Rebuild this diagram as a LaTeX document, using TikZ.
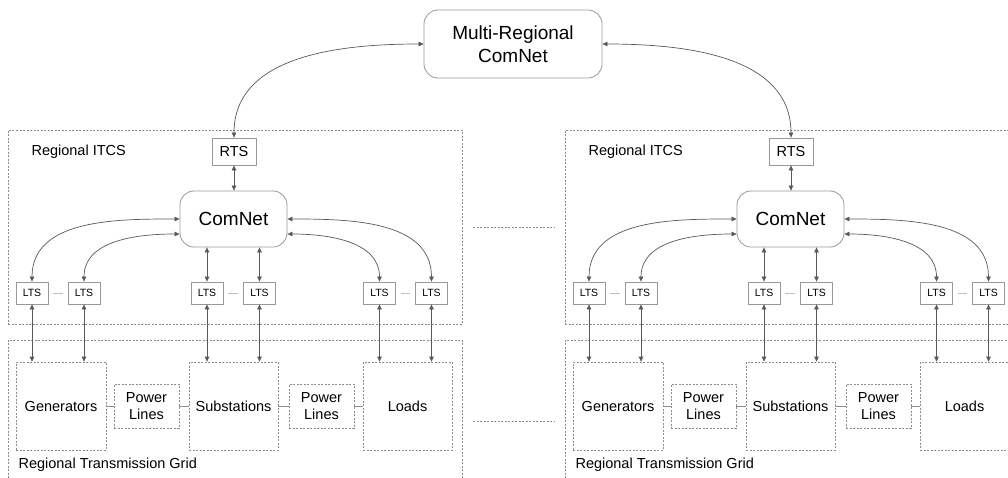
\documentclass[tikz,border=0pt]{standalone}
\usepackage{fontspec}
\setmainfont{Liberation Sans}
\usetikzlibrary{arrows.meta}

% font sizes (1pt = 1 unit of the drawing grid)
\newcommand\hdfnt{\fontsize{19}{23}\selectfont}
\newcommand\lblfnt{\fontsize{14.5}{17.5}\selectfont}
\newcommand\ltsfnt{\fontsize{10.5}{12}\selectfont}

\tikzset{
  solidbox/.style={draw=black!40, line width=0.8pt, fill=white, inner sep=0pt, align=center},
  roundbox/.style={solidbox, rounded corners=14pt},
  dashbox/.style={draw=black!45, line width=0.7pt, dash pattern=on 2pt off 1.5pt, fill=white, inner sep=0pt, align=center},
  framebox/.style={draw=black!45, line width=0.7pt, dash pattern=on 2pt off 1.5pt, inner sep=0pt},
  link/.style={draw=black!65, line width=0.7pt, <->},
  pairline/.style={draw=black!25, line width=0.7pt, shorten <=5pt, shorten >=5pt},
  gridline/.style={draw=black!45, line width=0.7pt},
  gapline/.style={draw=black!45, line width=0.7pt, dash pattern=on 2pt off 1.5pt},
}

\begin{document}
\begin{tikzpicture}[x=1pt, y=-1pt, >={Triangle[length=5pt,width=4.5pt]}]
\useasboundingbox (0,0) rectangle (1008,477);
\fill[white] (0,0) rectangle (1008,477);
\clip (0,0) rectangle (1008,477);

% top-level communication network
\node[roundbox, minimum width=178pt, minimum height=68pt, font=\hdfnt] (mr) at (513,44) {Multi-Regional\\ComNet};

% two identical regions
\foreach \s/\dx in {A/0, B/557} {
  \begin{scope}[xshift=\dx pt]
    % regional ITCS frame
    \node[framebox, minimum width=454pt, minimum height=194pt] (itcs\s) at (235,227) {};
    \node[anchor=west, font=\lblfnt] (itcslbl\s) at (28,152) {Regional ITCS};
    \node[solidbox, minimum width=44pt, minimum height=27pt, font=\lblfnt] (rts\s) at (234,151.5) {RTS};
    \node[roundbox, minimum width=107pt, minimum height=56pt, font=\hdfnt] (comnet\s) at (233.5,219) {ComNet};

    % local terminal servers
    \foreach \i/\x in {1/32, 2/84, 3/207, 4/259.5, 5/379.5, 6/431.5}
      \node[solidbox, minimum width=32pt, minimum height=22pt, font=\ltsfnt] (lts\s\i) at (\x,293) {LTS};

    % regional transmission grid frame
    \node[framebox, minimum width=454pt, minimum height=160pt] (grid\s) at (235,420) {};
    \node[anchor=west, font=\lblfnt] (gridlbl\s) at (15,465) {Regional Transmission Grid};

    \node[dashbox, minimum width=90pt, minimum height=88pt, font=\lblfnt] (gen\s) at (61,406) {Generators};
    \node[dashbox, minimum width=65pt, minimum height=44pt, font=\lblfnt] (plA\s) at (146.5,406) {Power\\Lines};
    \node[dashbox, minimum width=89pt, minimum height=88pt, font=\lblfnt] (sub\s) at (233.5,406) {Substations};
    \node[dashbox, minimum width=65pt, minimum height=44pt, font=\lblfnt] (plB\s) at (321.5,406) {Power\\Lines};
    \node[dashbox, minimum width=89pt, minimum height=88pt, font=\lblfnt] (load\s) at (407.5,406) {Loads};

    % grid connections
    \draw[gridline] (gen\s) -- (plA\s);
    \draw[gridline] (plA\s) -- (sub\s);
    \draw[gridline] (sub\s) -- (plB\s);
    \draw[gridline] (plB\s) -- (load\s);

    % LTS pairs
    \draw[pairline] (lts\s1) -- (lts\s2);
    \draw[pairline] (lts\s3) -- (lts\s4);
    \draw[pairline] (lts\s5) -- (lts\s6);

    % RTS <-> ComNet
    \draw[link] (rts\s.south) -- (comnet\s.north -| rts\s.south);

    % LTS <-> ComNet
    \draw[link] (lts\s1.north) to[out=90, in=180] (comnet\s.west);
    \draw[link] (lts\s2.north) to[out=90, in=180] ([yshift=-15pt]comnet\s.west);
    \draw[link] (lts\s3.north) -- (lts\s3.north |- comnet\s.south);
    \draw[link] (lts\s4.north) -- (lts\s4.north |- comnet\s.south);
    \draw[link] (lts\s5.north) to[out=90, in=0] ([yshift=-15pt]comnet\s.east);
    \draw[link] (lts\s6.north) to[out=90, in=0] (comnet\s.east);

    % LTS <-> grid elements
    \draw[link] (lts\s1.south) -- (lts\s1.south |- gen\s.north);
    \draw[link] (lts\s2.south) -- (lts\s2.south |- gen\s.north);
    \draw[link] (lts\s3.south) -- (lts\s3.south |- sub\s.north);
    \draw[link] (lts\s4.south) -- (lts\s4.south |- sub\s.north);
    \draw[link] (lts\s5.south) -- (lts\s5.south |- load\s.north);
    \draw[link] (lts\s6.south) -- (lts\s6.south |- load\s.north);
  \end{scope}
}

% RTS <-> multi-regional network
\draw[link] (mr.west) to[out=180, in=90] (rtsA.north);
\draw[link] (mr.east) to[out=0, in=90] (rtsB.north);

% gaps between regions
\draw[gapline] (473,227) -- (554,227);
\draw[gapline] (473,421) -- (554,421);
\end{tikzpicture}
\end{document}
